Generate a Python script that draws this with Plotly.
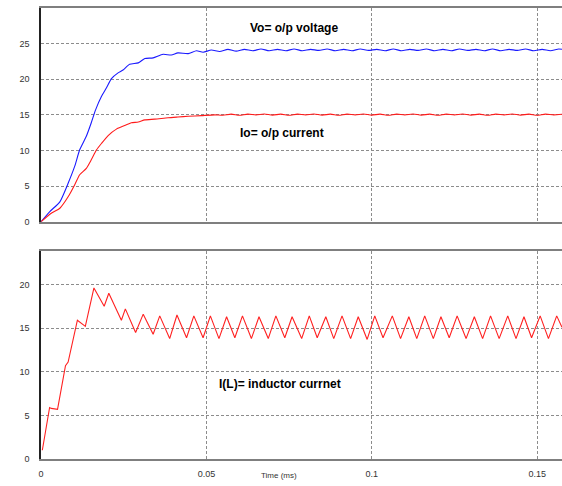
import plotly.graph_objects as go

# ---------------- data ----------------
# Output voltage Vo (blue), top panel
vo_t = [0, 0.0026, 0.0057, 0.0082, 0.0102, 0.0117, 0.0137, 0.0152, 0.0165, 0.0183,
        0.0198, 0.0213, 0.0233, 0.0248, 0.0268, 0.0294, 0.0314, 0.0339, 0.0369, 0.0394,
        0.0414, 0.0445, 0.0470, 0.0490, 0.0515,
        0.0540, 0.0565, 0.0590, 0.0615, 0.0640, 0.0665, 0.0690, 0.0715, 0.0740, 0.0765,
        0.0790, 0.0815, 0.0840, 0.0865, 0.0890, 0.0915, 0.0940, 0.0965, 0.0990, 0.1015,
        0.1040, 0.1065, 0.1090, 0.1115, 0.1140, 0.1165, 0.1190, 0.1215, 0.1240, 0.1265,
        0.1290, 0.1315, 0.1340, 0.1365, 0.1390, 0.1415, 0.1440, 0.1465, 0.1490, 0.1515,
        0.1540, 0.1565, 0.1575]
vo_v = [0, 1.4, 2.8, 5.4, 7.8, 10.1, 12.0, 13.9, 15.7, 17.6,
        18.8, 20.1, 20.9, 21.3, 22.1, 22.3, 22.9, 23.0, 23.5, 23.4,
        23.7, 23.6, 24.0, 23.8, 24.1,
        23.9, 24.2, 23.95, 24.2, 24.0, 24.25, 24.0, 24.2, 24.0, 24.25,
        24.0, 24.2, 24.05, 24.25, 24.0, 24.2, 24.0, 24.25, 24.05, 24.2,
        24.0, 24.25, 24.0, 24.2, 24.05, 24.25, 24.0, 24.2, 24.0, 24.25,
        24.05, 24.2, 24.0, 24.25, 24.0, 24.2, 24.05, 24.25, 24.0, 24.2,
        24.0, 24.25, 24.2]

# Output current Io (red), top panel
io_t = [0, 0.0031, 0.0057, 0.0082, 0.0102, 0.0117, 0.0137, 0.0152, 0.0168, 0.0183,
        0.0203, 0.0228, 0.0253, 0.0273, 0.0294, 0.0314, 0.0344, 0.0384, 0.0414, 0.0445,
        0.0485, 0.0525,
        0.0550, 0.0575, 0.0600, 0.0625, 0.0650, 0.0675, 0.0700, 0.0725, 0.0750, 0.0775,
        0.0800, 0.0825, 0.0850, 0.0875, 0.0900, 0.0925, 0.0950, 0.0975, 0.1000, 0.1025,
        0.1050, 0.1075, 0.1100, 0.1125, 0.1150, 0.1175, 0.1200, 0.1225, 0.1250, 0.1275,
        0.1300, 0.1325, 0.1350, 0.1375, 0.1400, 0.1425, 0.1450, 0.1475, 0.1500, 0.1525,
        0.1550, 0.1575]
io_v = [0, 1.2, 1.9, 3.5, 5.2, 6.6, 7.5, 8.7, 10.1, 11.0,
        12.1, 13.0, 13.5, 13.9, 14.0, 14.3, 14.4, 14.6, 14.7, 14.8,
        14.9, 15.0,
        14.95, 15.1, 14.95, 15.1, 15.0, 15.12, 14.97, 15.1, 14.95, 15.1,
        15.0, 15.12, 14.97, 15.1, 14.95, 15.1, 15.0, 15.12, 14.97, 15.1,
        14.95, 15.1, 15.0, 15.12, 14.97, 15.1, 14.95, 15.1, 15.0, 15.12,
        14.97, 15.1, 14.95, 15.1, 15.0, 15.12, 14.97, 15.1, 14.95, 15.1,
        15.0, 15.08]

# Inductor current I(L) (red), bottom panel
il_t = [0.0004, 0.0026, 0.0031, 0.0050, 0.0074, 0.0082, 0.0110, 0.0134, 0.0160, 0.0191,
        0.0205, 0.0243, 0.0255, 0.0286, 0.0309, 0.0339, 0.0359, 0.0389, 0.0411, 0.0440,
        0.0462, 0.0490, 0.0512, 0.0538, 0.0561, 0.0586, 0.0609, 0.0636, 0.0659, 0.0687,
        0.0710, 0.0737, 0.0759, 0.0788, 0.0811, 0.0835, 0.0861, 0.0885, 0.0910, 0.0936,
        0.0959, 0.0986, 0.1009, 0.1034, 0.1062, 0.1087, 0.1112, 0.1136, 0.1160, 0.1186,
        0.1209, 0.1234, 0.1258, 0.1285, 0.1310, 0.1335, 0.1359, 0.1385, 0.1411, 0.1436,
        0.1460, 0.1483, 0.1509, 0.1534, 0.1559, 0.1575]
il_v = [1.0, 5.9, 5.8, 5.7, 10.7, 11.1, 15.9, 15.2, 19.6, 17.5,
        19.0, 15.9, 17.2, 14.5, 16.6, 14.3, 16.4, 13.8, 16.5, 13.9,
        16.4, 13.9, 16.4, 13.8, 16.3, 13.9, 16.4, 13.8, 16.3, 13.8,
        16.4, 13.9, 16.3, 13.8, 16.4, 13.9, 16.3, 13.8, 16.4, 13.8,
        16.3, 13.7, 16.4, 13.9, 16.4, 13.8, 16.3, 13.8, 16.4, 13.8,
        16.3, 13.9, 16.4, 13.8, 16.3, 13.8, 16.4, 13.8, 16.4, 13.8,
        16.3, 13.9, 16.4, 13.8, 16.4, 15.1]

x_ticks = [0, 0.05, 0.1, 0.15]
x_ticklabels = ["0", "0.05", "0.1", "0.15"]
y1_ticks = [0, 5, 10, 15, 20, 25]
y2_ticks = [0, 5, 10, 15, 20]

# ---------------- figure ----------------
fig = go.Figure()
fig.add_trace(go.Scatter(x=vo_t, y=vo_v, mode="lines",
                         line=dict(color="#1a1aff", width=1.1, shape="spline", smoothing=0.6),
                         xaxis="x", yaxis="y", showlegend=False, hoverinfo="skip"))
fig.add_trace(go.Scatter(x=io_t, y=io_v, mode="lines",
                         line=dict(color="#ff1a1a", width=1.1, shape="spline", smoothing=0.6),
                         xaxis="x", yaxis="y", showlegend=False, hoverinfo="skip"))
fig.add_trace(go.Scatter(x=il_t, y=il_v, mode="lines",
                         line=dict(color="#ff2020", width=1.1),
                         xaxis="x2", yaxis="y2", showlegend=False, hoverinfo="skip"))

tickfont = dict(family="Liberation Sans, Arial, sans-serif", size=9, color="#333333")
grid = dict(showgrid=True, gridcolor="#8c8c8c", gridwidth=1, griddash="3px,2px", zeroline=False)

xcommon = dict(range=[0, 0.1575], tickvals=x_ticks, ticktext=x_ticklabels, ticks="",
               showline=True, mirror=True, linecolor="#7f7f7f", linewidth=2,
               tickfont=tickfont, **grid)
ycommon = dict(ticks="", showline=True, linecolor="#222222", linewidth=1.5,
               tickfont=tickfont, ticklabelstandoff=8, **grid)

fig.update_layout(
    width=562, height=486,
    margin=dict(l=41, r=0, t=8, b=27),
    paper_bgcolor="white", plot_bgcolor="white",
    xaxis=dict(domain=[0, 1], anchor="y", showticklabels=False, **xcommon),
    yaxis=dict(domain=[0.526, 1.0], anchor="x", range=[0, 30], tickvals=y1_ticks, **ycommon),
    xaxis2=dict(domain=[0, 1], anchor="y2", showticklabels=True, ticklabelstandoff=5, **xcommon),
    yaxis2=dict(domain=[0, 0.4605], anchor="x2", range=[0, 23.8], tickvals=y2_ticks, **ycommon),
)

labfont = dict(family="Liberation Sans, Arial, sans-serif", size=12, color="black")
fig.add_annotation(x=0.0764, y=27.2, xref="x", yref="y", text="<b>Vo= o/p voltage</b>",
                   showarrow=False, font=labfont)
fig.add_annotation(x=0.0728, y=12.5, xref="x", yref="y", text="<b>Io= o/p current</b>",
                   showarrow=False, font=labfont)
fig.add_annotation(x=0.0724, y=8.6, xref="x2", yref="y2", text="<b>I(L)= inductor currnet</b>",
                   showarrow=False, font=labfont)
fig.add_annotation(x=0.456, y=-0.051, xref="paper", yref="paper", text="Time (ms)",
                   showarrow=False, font=dict(family="Liberation Sans, Arial, sans-serif",
                                              size=8, color="#333333"))

fig.write_html("out.html")
